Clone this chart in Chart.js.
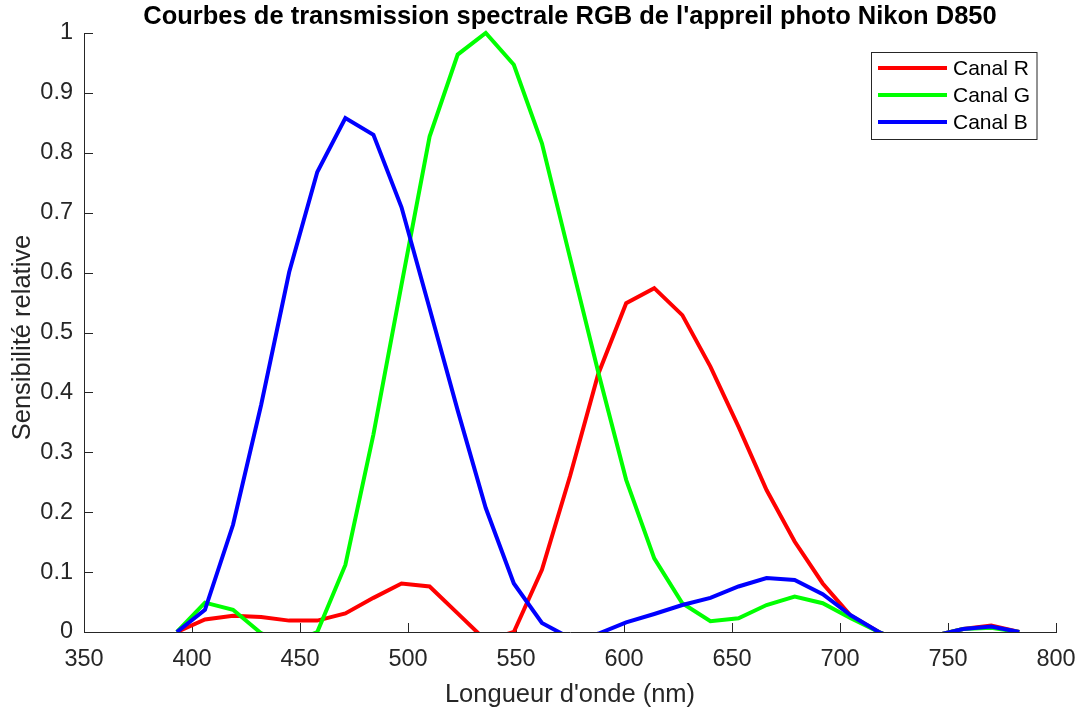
<!DOCTYPE html>
<html>
<head>
<meta charset="utf-8">
<script src="https://cdn.jsdelivr.net/npm/chart.js@4.4.1/dist/chart.umd.min.js"></script>
<style>
  html,body{margin:0;padding:0;background:#fff;}
  canvas{display:block;}
</style>
</head>
<body>
<canvas id="spectre" width="1080" height="713"></canvas>
<script>
// longueurs d'onde échantillonnées (nm)
const wavelengths = [393,406,419,432,445,458,471,484,497,510,523,536,549,562,575,588,601,614,627,640,653,666,679,692,705,718,731,744,757,770,783];
// sensibilités relatives (les valeurs < 0 sont coupées par l'axe, comme dans l'original)
const canalR = [0,0.021,0.027,0.025,0.019,0.019,0.031,0.057,0.081,0.076,0.031,-0.014,0,0.104,0.26,0.43,0.549,0.574,0.529,0.443,0.343,0.237,0.151,0.081,0.027,0,-0.02,-0.006,0.005,0.011,0];
const canalG = [0,0.049,0.037,-0.002,-0.02,0,0.112,0.33,0.58,0.827,0.964,1.0,0.947,0.816,0.625,0.435,0.254,0.123,0.048,0.018,0.023,0.045,0.059,0.048,0.023,0,-0.02,-0.006,0.005,0.007,0];
const canalB = [0,0.037,0.179,0.379,0.601,0.768,0.858,0.83,0.709,0.54,0.37,0.207,0.081,0.015,-0.01,-0.003,0.016,0.03,0.045,0.057,0.076,0.09,0.087,0.063,0.028,0,-0.02,-0.006,0.005,0.009,0];
const labels = ['Canal R','Canal G','Canal B'];
const colors = ['#ff0000','#00ff00','#0000ff'];

const TITLE = "Courbes de transmission spectrale RGB de l'appreil photo Nikon D850";
const XTITLE = "Longueur d'onde (nm)";
const YTITLE = 'Sensibilité relative';
const AXIS = '#262626';
const FONT = '"Liberation Sans", Arial, Helvetica, sans-serif';

const pts = vals => vals.map((v,i)=>({x:wavelengths[i], y:v}));

const decor = {
  id:'decor',
  beforeDatasetsDraw(chart){
    const {ctx, chartArea:a, scales:{x,y}} = chart;
    ctx.save();
    ctx.strokeStyle = AXIS; ctx.lineWidth = 1;
    ctx.beginPath();
    x.ticks.forEach(t=>{ const p=Math.round(x.getPixelForValue(t.value))+0.5; ctx.moveTo(p,a.bottom); ctx.lineTo(p,a.bottom-9); });
    y.ticks.forEach(t=>{ const p=Math.round(y.getPixelForValue(t.value))+0.5; ctx.moveTo(a.left,p); ctx.lineTo(a.left+9,p); });
    ctx.stroke();
    ctx.restore();
  },
  afterDraw(chart){
    const {ctx, chartArea:a} = chart;
    const cx = (a.left+a.right)/2, cy = (a.top+a.bottom)/2;
    ctx.save();
    // titre
    ctx.fillStyle = '#000';
    ctx.font = `bold 25.5px ${FONT}`;
    ctx.textAlign = 'center'; ctx.textBaseline = 'alphabetic';
    ctx.fillText(TITLE, cx, 24);
    // titres des axes
    ctx.fillStyle = AXIS;
    ctx.font = `25.5px ${FONT}`;
    ctx.fillText(XTITLE, cx, 701.5);
    ctx.translate(29.5, cy+5); ctx.rotate(-Math.PI/2);
    ctx.fillText(YTITLE, 0, 0);
    ctx.restore();

    // légende
    ctx.save();
    const bx=871.5, by=52.5, bw=165.5, bh=87;
    ctx.fillStyle='#fff'; ctx.fillRect(bx,by,bw,bh);
    ctx.strokeStyle=AXIS; ctx.lineWidth=1; ctx.strokeRect(bx,by,bw,bh);
    ctx.font = `21px ${FONT}`; ctx.textAlign='left'; ctx.textBaseline='middle';
    chart.data.datasets.forEach((ds,i)=>{
      const ry = 68 + i*27;
      ctx.strokeStyle = ds.borderColor; ctx.lineWidth = 4;
      ctx.beginPath(); ctx.moveTo(878,ry); ctx.lineTo(947,ry); ctx.stroke();
      ctx.fillStyle = '#000';
      ctx.fillText(ds.label, 953, ry+1);
    });
    ctx.restore();
  }
};

new Chart(document.getElementById('spectre'), {
  type:'line',
  data:{
    datasets:[canalR,canalG,canalB].map((vals,i)=>({
      label:labels[i],
      data:pts(vals),
      borderColor:colors[i],
      backgroundColor:colors[i],
      borderWidth:4,
      pointRadius:0,
      tension:0,
      fill:false,
      order:3-i,
      clip:{left:4,top:4,right:4,bottom:0}
    }))
  },
  options:{
    responsive:false,
    devicePixelRatio:1,
    animation:false,
    layout:{padding:{top:33,right:24,bottom:0,left:0}},
    plugins:{legend:{display:false},tooltip:{enabled:false},title:{display:false}},
    scales:{
      x:{
        type:'linear', min:350, max:800,
        ticks:{stepSize:50, autoSkip:false, maxRotation:0, padding:13, color:AXIS, font:{family:FONT,size:23.5}},
        grid:{drawOnChartArea:false, drawTicks:false},
        border:{color:AXIS, width:1},
        afterFit(s){ s.height = 81; s.paddingLeft = 0; s.paddingRight = 0; }
      },
      y:{
        type:'linear', min:0, max:1,
        ticks:{stepSize:0.1, padding:11, color:AXIS, font:{family:FONT,size:23.5},
               callback:v=>String(+v.toFixed(1))},
        grid:{drawOnChartArea:false, drawTicks:false},
        border:{color:AXIS, width:1},
        afterFit(s){ s.width = 84; s.paddingTop = 0; s.paddingBottom = 0; }
      }
    }
  },
  plugins:[decor]
});
</script>
</body>
</html>
